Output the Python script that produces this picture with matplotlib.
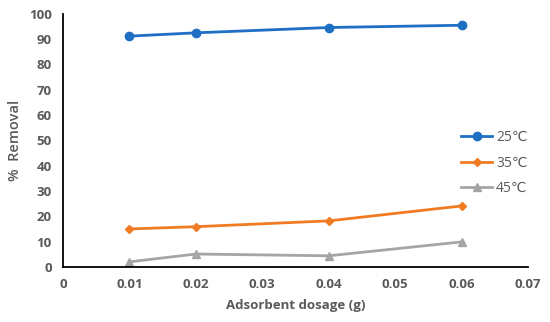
import matplotlib
matplotlib.use('Agg')
import matplotlib.pyplot as plt

plt.rcParams['font.family'] = ['Open Sans', 'DejaVu Sans']

# data
dosage = [0.01, 0.02, 0.04, 0.06]
removal_25 = [91.2, 92.5, 94.6, 95.5]
removal_35 = [15.0, 15.9, 18.2, 24.1]
removal_45 = [2.0, 5.1, 4.4, 9.9]

xticks = [0, 0.01, 0.02, 0.03, 0.04, 0.05, 0.06, 0.07]
xlabels = ['0', '0.01', '0.02', '0.03', '0.04', '0.05', '0.06', '0.07']
yticks = list(range(0, 101, 10))

txt = '#595959'

fig = plt.figure(figsize=(5.5, 3.22), dpi=100)
ax = fig.add_axes([0.1145, 0.171, 0.8455, 0.786])

ax.plot(dosage, removal_25, color='#1f6fc5', marker='o', markersize=6, lw=2, label='25℃')
ax.plot(dosage, removal_35, color='#f07b22', marker='D', markersize=4.5, lw=2, label='35℃')
ax.plot(dosage, removal_45, color='#a5a5a5', marker='^', markersize=6, lw=2, label='45℃')

ax.set_xlim(0, 0.07)
ax.set_ylim(0, 100)
ax.set_xticks(xticks)
ax.set_xticklabels(xlabels)
ax.set_yticks(yticks)
ax.tick_params(length=0, labelsize=9.5, labelcolor=txt, pad=8)
for lab in ax.get_xticklabels() + ax.get_yticklabels():
    lab.set_fontweight('bold')

for s in ['top', 'right']:
    ax.spines[s].set_visible(False)
ax.spines['left'].set_linewidth(1.3)
ax.spines['bottom'].set_linewidth(1.3)

ax.set_xlabel('Adsorbent dosage (g)', fontsize=9.5, color=txt, fontweight='bold', labelpad=6)
ax.set_ylabel('%  Removal', fontsize=10.5, color=txt, fontweight='semibold', labelpad=5)

leg = ax.legend(loc='center left', bbox_to_anchor=(0.83, 0.41), frameon=False,
                fontsize=10, labelcolor=txt, handlelength=2.2, labelspacing=0.75,
                handletextpad=0.3)

fig.savefig('out.png', dpi=100)
